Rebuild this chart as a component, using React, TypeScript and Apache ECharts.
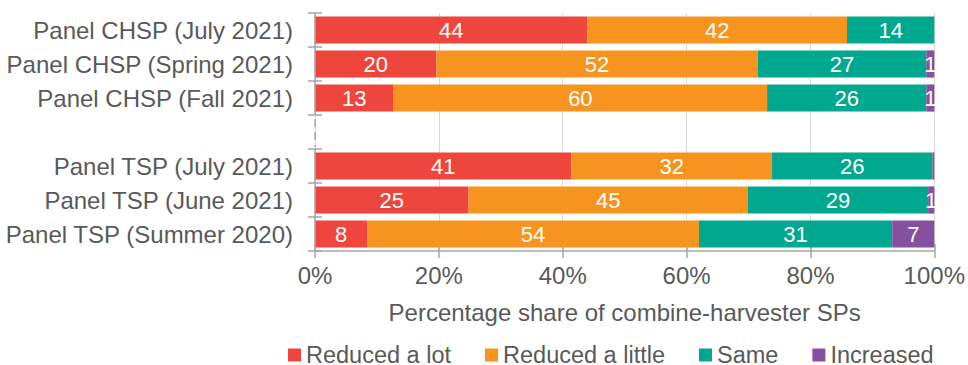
import React, { useEffect, useRef } from "react";
import * as echarts from "echarts";

const categories = [
  "Panel CHSP (July 2021)",
  "Panel CHSP (Spring 2021)",
  "Panel CHSP (Fall 2021)",
  "",
  "Panel TSP (July 2021)",
  "Panel TSP (June 2021)",
  "Panel TSP (Summer 2020)",
];
const reducedALot = [44.0, 19.6, 12.7, null, 41.4, 24.8, 8.4];
const reducedALittle = [41.9, 51.9, 60.3, null, 32.4, 45.1, 53.6];
const same = [14.1, 27.2, 25.7, null, 25.9, 29.1, 31.2];
const increased = [0, 1.3, 1.3, null, 0.3, 1.0, 6.8];

const seriesNames = ["Reduced a lot", "Reduced a little", "Same", "Increased"];
const seriesColors = ["#EE463C", "#F6941F", "#00A88F", "#874FA0"];
const FONT = "Liberation Sans, Arial, sans-serif";
const AXIS = "#A6A6A6";
const FS = 24;

export default function App() {
  const ref = useRef<HTMLDivElement>(null);
  useEffect(() => {
    const chart = echarts.init(ref.current!, null, { renderer: "svg" });
    const data = [reducedALot, reducedALittle, same, increased];
    const series: any[] = data.map((d, i) => ({
      name: seriesNames[i],
      type: "bar",
      stack: "total",
      barWidth: "80%",
      data: d,
      itemStyle: { color: seriesColors[i] },
      label: {
        show: true,
        position: "inside",
        color: "#fff",
        fontSize: 22,
        fontFamily: FONT,
        formatter: (p: any) => {
          const v = Math.round(p.value);
          return v > 0 ? String(v) : "";
        },
      },
      emphasis: { disabled: true },
    }));
    chart.setOption({
      animation: false,
      textStyle: { fontFamily: FONT },
      grid: { left: 315, right: 31, top: 13, bottom: 114, containLabel: false },
      legend: {
        data: seriesNames,
        left: 283,
        top: 338,
        icon: "rect",
        itemWidth: 13,
        itemHeight: 13,
        itemGap: 34,
        textStyle: { fontSize: 23.5, color: "#595959", fontFamily: FONT, lineHeight: 24 },
      },
      xAxis: [
        {
          type: "value",
          min: 0,
          max: 100,
          interval: 20,
          axisLine: { show: true, lineStyle: { color: AXIS, width: 1.5 } },
          axisTick: { show: true, length: 7, lineStyle: { color: AXIS, width: 1.5 } },
          splitLine: { show: true, lineStyle: { color: "#D9D9D9", width: 1 } },
          axisLabel: {
            formatter: (v: number) => v + "%",
            fontSize: FS,
            color: "#595959",
            margin: 12,
            fontFamily: FONT,
          },
          name: "Percentage share of combine-harvester SPs",
          nameLocation: "middle",
          nameGap: 49,
          nameTextStyle: { fontSize: FS, color: "#595959", fontFamily: FONT },
        },
        {
          type: "value",
          min: 0,
          max: 100,
          interval: 20,
          position: "bottom",
          axisLine: { show: false },
          axisTick: { show: true, inside: true, length: 7, lineStyle: { color: AXIS, width: 1.5 } },
          splitLine: { show: false },
          axisLabel: { show: false },
        },
      ],
      yAxis: [
        {
          type: "category",
          data: categories,
          inverse: true,
          axisLine: { show: false },
          axisTick: { show: true, length: 7, lineStyle: { color: AXIS, width: 1.5 } },
          axisLabel: { fontSize: FS, color: "#595959", margin: 22, fontFamily: FONT },
        },
        {
          type: "category",
          data: categories,
          inverse: true,
          position: "left",
          axisLine: { show: false },
          axisTick: { show: true, inside: true, length: 7, lineStyle: { color: AXIS, width: 1.5 } },
          axisLabel: { show: false },
        },
      ],
      series,
    });

    // y axis line with a dashed break over the empty category
    const x0 = chart.convertToPixel({ xAxisIndex: 0 }, 0) as number;
    const c = (i: number) => chart.convertToPixel({ yAxisIndex: 0 }, categories[i]) as number;
    const band = (c(4) - c(2)) / 2;
    const top = c(0) - band / 2;
    const bottom = c(categories.length - 1) + band / 2;
    const gapTop = c(3) - band / 2;
    const gapBottom = c(3) + band / 2;
    const ls = { stroke: AXIS, lineWidth: 1.5 };
    chart.setOption({
      graphic: [
        { type: "line", shape: { x1: x0, y1: top, x2: x0, y2: gapTop }, style: ls, silent: true, z: 10 },
        {
          type: "line",
          shape: { x1: x0, y1: gapTop + 4, x2: x0, y2: gapBottom - 2 },
          style: { ...ls, lineDash: [8, 5] },
          silent: true,
          z: 10,
        },
        { type: "line", shape: { x1: x0, y1: gapBottom, x2: x0, y2: bottom }, style: ls, silent: true, z: 10 },
      ],
    });
    return () => chart.dispose();
  }, []);
  return (
    <div
      ref={ref}
      style={{ position: "absolute", left: 0, top: 0, width: 968, height: 365 }}
    />
  );
}
